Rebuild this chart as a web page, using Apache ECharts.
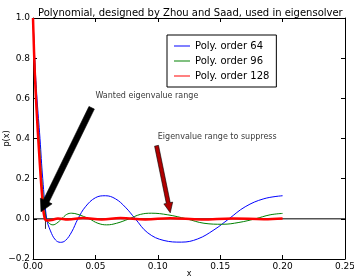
<!DOCTYPE html>
<html>
<head>
<meta charset="utf-8">
<script src="https://cdn.jsdelivr.net/npm/echarts@6/dist/echarts.min.js"></script>
<style>
  html, body { margin: 0; padding: 0; background: #fff; }
  #chart { width: 354px; height: 280px; }
</style>
</head>
<body>
<div id="chart"></div>
<script>
// values
var order64 = [[0, 1.0], [0.0015, 0.78], [0.0032, 0.6], [0.0056, 0.4], [0.0078, 0.2], [0.011, 0.0],
  [0.014, -0.06], [0.018, -0.105], [0.022, -0.117], [0.026, -0.108], [0.031, -0.065], [0.036, 0.0],
  [0.042, 0.06], [0.05, 0.105], [0.058, 0.115], [0.066, 0.1], [0.074, 0.058], [0.082, 0.0],
  [0.092, -0.07], [0.105, -0.108], [0.119, -0.116], [0.132, -0.1], [0.145, -0.055], [0.157, 0.0],
  [0.17, 0.06], [0.185, 0.1], [0.2, 0.115]];
var order96 = [[0, 1.0], [0.0015, 0.76], [0.003, 0.57], [0.0052, 0.37], [0.0075, 0.16], [0.0105, 0.0],
  [0.013, -0.022], [0.016, -0.03], [0.019, -0.022], [0.023, 0.0], [0.027, 0.022], [0.031, 0.028],
  [0.036, 0.022], [0.045, 0.0], [0.052, -0.022], [0.059, -0.03], [0.067, -0.022], [0.077, 0.0],
  [0.086, 0.022], [0.095, 0.028], [0.108, 0.02], [0.123, 0.0], [0.137, -0.022], [0.152, -0.027],
  [0.165, -0.018], [0.178, 0.0], [0.19, 0.02], [0.2, 0.027]];
var order128 = [[0, 1.0], [0.0013, 0.75], [0.0028, 0.55], [0.005, 0.32], [0.0075, 0.1], [0.0095, 0.0],
  [0.012, -0.008], [0.015, -0.006], [0.02, 0.002], [0.028, -0.003], [0.04, 0.004], [0.055, -0.003],
  [0.07, 0.004], [0.09, -0.003], [0.11, 0.003], [0.135, -0.003], [0.16, 0.002], [0.185, -0.002],
  [0.2, 0.002]];
var zeroLine = [[0, 0], [0.25, 0]];
var markerLine = [[0.01, -0.05], [0.01, 0.05]];

var wantedArrow = [[0.047, 0.553, 0.0064, 0.035]];
var suppressArrow = [[0.099, 0.364, 0.11, 0.03]];
var noteLabels = [
  [0.05, 0.612, 'Wanted eigenvalue range'],
  [0.1, 0.41, 'Eigenvalue range to suppress']
];

var xTicks = { min: 0, max: 0.25, interval: 0.05 };
var yTicks = { min: -0.2, max: 1.0, interval: 0.2 };

var font = 'DejaVu Sans';

function arrowSeries(data, fill, shaft, headW, headL) {
  return {
    type: 'custom',
    data: data,
    silent: true,
    z: 10,
    renderItem: function (params, api) {
      var p0 = api.coord([api.value(0), api.value(1)]);
      var p1 = api.coord([api.value(2), api.value(3)]);
      var dx = p1[0] - p0[0], dy = p1[1] - p0[1];
      var len = Math.sqrt(dx * dx + dy * dy);
      var ux = dx / len, uy = dy / len;
      var nx = -uy, ny = ux;
      var bx = p1[0] - ux * headL, by = p1[1] - uy * headL;
      var pts = [
        [p0[0] + nx * shaft / 2, p0[1] + ny * shaft / 2],
        [bx + nx * shaft / 2, by + ny * shaft / 2],
        [bx + nx * headW / 2, by + ny * headW / 2],
        [p1[0], p1[1]],
        [bx - nx * headW / 2, by - ny * headW / 2],
        [bx - nx * shaft / 2, by - ny * shaft / 2],
        [p0[0] - nx * shaft / 2, p0[1] - ny * shaft / 2]
      ];
      return { type: 'polygon', shape: { points: pts }, style: { fill: fill, stroke: '#000', lineWidth: 0.6 } };
    }
  };
}

var chart = echarts.init(document.getElementById('chart'), null, { renderer: 'canvas' });

var tickLabelStyle = { color: '#000', fontFamily: font, fontSize: 9 };

chart.setOption({
  animation: false,
  backgroundColor: '#fff',
  title: {
    text: 'Polynomial, designed by Zhou and Saad, used in eigensolver',
    left: 33, top: 3,
    textStyle: { color: '#000', fontFamily: font, fontSize: 10, fontWeight: 'normal' }
  },
  grid: { left: 33, right: 9, top: 18, bottom: 21, containLabel: false, outerBoundsMode: 'none' },
  legend: {
    orient: 'vertical',
    left: 167, top: 35,
    backgroundColor: '#fff',
    borderColor: '#000', borderWidth: 1, borderRadius: 0,
    padding: [6, 7, 6, 7],
    itemGap: 5,
    itemWidth: 16, itemHeight: 1,
    icon: 'rect',
    textStyle: { color: '#000', fontFamily: font, fontSize: 10 },
    data: ['Poly. order 64', 'Poly. order 96', 'Poly. order 128']
  },
  xAxis: [{
    type: 'value', min: xTicks.min, max: xTicks.max, interval: xTicks.interval,
    name: 'x', nameLocation: 'middle', nameGap: 11, nameMoveOverlap: false,
    nameTextStyle: { color: '#000', fontFamily: font, fontSize: 8 },
    axisLine: { onZero: false, lineStyle: { color: '#000', width: 1 } },
    axisTick: { inside: true, length: 4, lineStyle: { color: '#000' } },
    axisLabel: Object.assign({ margin: 3, formatter: function (v) { return v.toFixed(2); } }, tickLabelStyle),
    splitLine: { show: false }
  }, {
    type: 'value', position: 'top', min: xTicks.min, max: xTicks.max, interval: xTicks.interval,
    axisLine: { onZero: false, lineStyle: { color: '#000', width: 1 } },
    axisTick: { inside: true, length: 4, lineStyle: { color: '#000' } },
    axisLabel: { show: false },
    splitLine: { show: false }
  }],
  yAxis: [{
    type: 'value', min: yTicks.min, max: yTicks.max, interval: yTicks.interval,
    name: 'p(x)', nameLocation: 'middle', nameGap: 22, nameMoveOverlap: false,
    nameTextStyle: { color: '#000', fontFamily: font, fontSize: 8 },
    axisLine: { onZero: false, lineStyle: { color: '#000', width: 1 } },
    axisTick: { inside: true, length: 4, lineStyle: { color: '#000' } },
    axisLabel: Object.assign({ margin: 3, formatter: function (v) { return v.toFixed(1).replace('-', '\u2212'); } }, tickLabelStyle),
    splitLine: { show: false }
  }, {
    type: 'value', position: 'right', min: yTicks.min, max: yTicks.max, interval: yTicks.interval,
    axisLine: { onZero: false, lineStyle: { color: '#000', width: 1 } },
    axisTick: { inside: true, length: 4, lineStyle: { color: '#000' } },
    axisLabel: { show: false },
    splitLine: { show: false }
  }],
  series: [
    { name: 'zero', type: 'line', data: zeroLine, showSymbol: false, silent: true,
      lineStyle: { color: '#000', width: 1 }, z: 1 },
    { name: 'marker', type: 'line', data: markerLine, showSymbol: false, silent: true,
      lineStyle: { color: '#333', width: 1 }, z: 1 },
    { name: 'Poly. order 64', type: 'line', data: order64, smooth: 0.4, showSymbol: false,
      itemStyle: { color: '#0000ff' }, lineStyle: { color: '#0000ff', width: 1 }, z: 3 },
    { name: 'Poly. order 96', type: 'line', data: order96, smooth: 0.4, showSymbol: false,
      itemStyle: { color: '#008000' }, lineStyle: { color: '#008000', width: 1 }, z: 4 },
    { name: 'Poly. order 128', type: 'line', data: order128, smooth: 0.4, showSymbol: false,
      itemStyle: { color: '#ff0000' }, lineStyle: { color: '#ff0000', width: 2.5 }, z: 5 },
    arrowSeries(wantedArrow, '#000', 6, 13, 12),
    arrowSeries(suppressArrow, '#b00000', 4, 9, 10),
    { name: 'notes', type: 'scatter', data: noteLabels, symbolSize: 0, silent: true, z: 11,
      label: { show: true, position: 'right', distance: 0, color: '#000', fontFamily: font, fontSize: 8,
        formatter: function (p) { return p.value[2]; } } }
  ]
});
</script>
</body>
</html>
